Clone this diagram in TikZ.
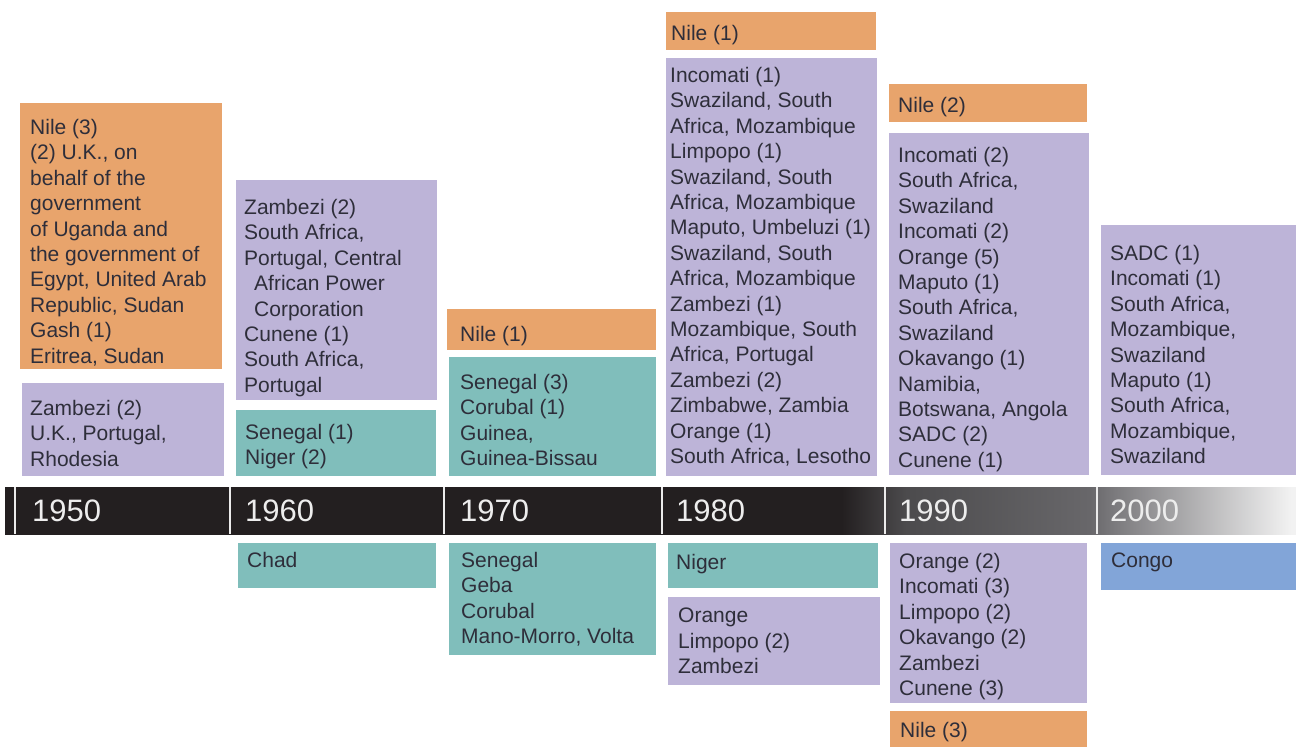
\documentclass[tikz,border=0pt]{standalone}
\usepackage{fontspec}
\setmainfont{Liberation Sans}

\definecolor{nile}{HTML}{E8A46C}
\definecolor{lilac}{HTML}{BDB4D8}
\definecolor{seagreen}{HTML}{80BEBB}
\definecolor{congo}{HTML}{82A5D8}
\definecolor{ink}{HTML}{2E2E3A}
\definecolor{bar}{HTML}{231F20}
\definecolor{barmid}{HTML}{4C4B4D}
\definecolor{barlow}{HTML}{68676A}
\definecolor{barlight}{HTML}{7C7B7E}
\definecolor{barend}{HTML}{F2F2F2}

% the time bar fades out after 1980
\pgfdeclarehorizontalshading{barfade}{100bp}{color(0bp)=(bar); color(57.4bp)=(bar);
  color(59.9bp)=(barmid); color(67bp)=(barlow); color(68bp)=(barlight);
  color(74.8bp)=(barend); color(100bp)=(barend)}

\tikzset{
  boxtext/.style={anchor=north west, inner sep=0pt, align=left, text=ink,
    font=\fontsize{21}{25.4}\selectfont},
  year/.style={anchor=west, inner sep=0pt, text=white!93!black,
    font=\fontsize{31}{31}\selectfont}
}

% name, colour, x1, y1, x2, y2, text x, first line y, text
\newcommand{\tlbox}[9]{%
  \fill[#2] (#3,#4) rectangle (#5,#6);
  \node[boxtext] (#1) at (#7,#8-8) {#9};
}

\begin{document}
\begin{tikzpicture}[x=1pt, y=-1pt]
  \useasboundingbox (0,0) rectangle (1296,747);
  % time bar
  \shade[shading=barfade] (5,487) rectangle (1296,534);
  \foreach \x in {15,230,444,662,885,1097}
    \draw[white!92!black, line width=2pt] (\x,487) -- (\x,534);
  \foreach \x/\yr in {32/1950,245/1960,460/1970,676/1980,899/1990,1110/2000}
    \node[year] (y\yr) at (\x,511) {\yr};
  % 1950
  \tlbox{nileA}{nile}{20}{103}{222}{369}{30}{127}{Nile (3)\\(2) U.K., on\\behalf of the\\government\\of Uganda and\\the government of\\Egypt, United Arab\\Republic, Sudan\\Gash (1)\\Eritrea, Sudan}
  \tlbox{zamA}{lilac}{22}{383}{224}{476}{30}{408}{Zambezi (2)\\U.K., Portugal,\\Rhodesia}
  % 1960
  \tlbox{zamB}{lilac}{236}{180}{437}{400}{244}{207}{Zambezi (2)\\South Africa,\\Portugal, Central\\\hspace*{10pt}African Power\\\hspace*{10pt}Corporation\\Cunene (1)\\South Africa,\\Portugal}
  \tlbox{senA}{seagreen}{236}{410}{436}{476}{245}{432}{Senegal (1)\\Niger (2)}
  \tlbox{chad}{seagreen}{238}{543}{436}{588}{247}{560}{Chad}
  % 1970
  \tlbox{nileB}{nile}{447}{309}{656}{350}{460}{334}{Nile (1)}
  \tlbox{senB}{seagreen}{449}{357}{656}{476}{460}{382}{Senegal (3)\\Corubal (1)\\Guinea,\\Guinea-Bissau}
  \tlbox{senC}{seagreen}{449}{543}{656}{655}{461}{560}{Senegal\\Geba\\Corubal\\Mano-Morro, Volta}
  % 1980
  \tlbox{nileC}{nile}{666}{12}{876}{50}{671}{33}{Nile (1)}
  \tlbox{incA}{lilac}{666}{58}{877}{476}{670}{75}{Incomati (1)\\Swaziland, South\\Africa, Mozambique\\Limpopo (1)\\Swaziland, South\\Africa, Mozambique\\Maputo, Umbeluzi (1)\\Swaziland, South\\Africa, Mozambique\\Zambezi (1)\\Mozambique, South\\Africa, Portugal\\Zambezi (2)\\Zimbabwe, Zambia\\Orange (1)\\South Africa, Lesotho}
  \tlbox{niger}{seagreen}{668}{543}{878}{588}{676}{562}{Niger}
  \tlbox{oraA}{lilac}{668}{597}{880}{685}{678}{616}{Orange\\Limpopo (2)\\Zambezi}
  % 1990
  \tlbox{nileD}{nile}{889}{84}{1087}{122}{898}{105}{Nile (2)}
  \tlbox{incB}{lilac}{889}{133}{1089}{475}{898}{155}{Incomati (2)\\South Africa,\\Swaziland\\Incomati (2)\\Orange (5)\\Maputo (1)\\South Africa,\\Swaziland\\Okavango (1)\\Namibia,\\Botswana, Angola\\SADC (2)\\Cunene (1)}
  \tlbox{oraB}{lilac}{890}{543}{1087}{703}{899}{561}{Orange (2)\\Incomati (3)\\Limpopo (2)\\Okavango (2)\\Zambezi\\Cunene (3)}
  \tlbox{nileE}{nile}{890}{711}{1087}{747}{900}{730}{Nile (3)}
  % 2000
  \tlbox{sadc}{lilac}{1101}{225}{1296}{475}{1110}{253}{SADC (1)\\Incomati (1)\\South Africa,\\Mozambique,\\Swaziland\\Maputo (1)\\South Africa,\\Mozambique,\\Swaziland}
  \tlbox{congo}{congo}{1101}{543}{1296}{590}{1111}{561}{Congo}
\end{tikzpicture}
\end{document}
